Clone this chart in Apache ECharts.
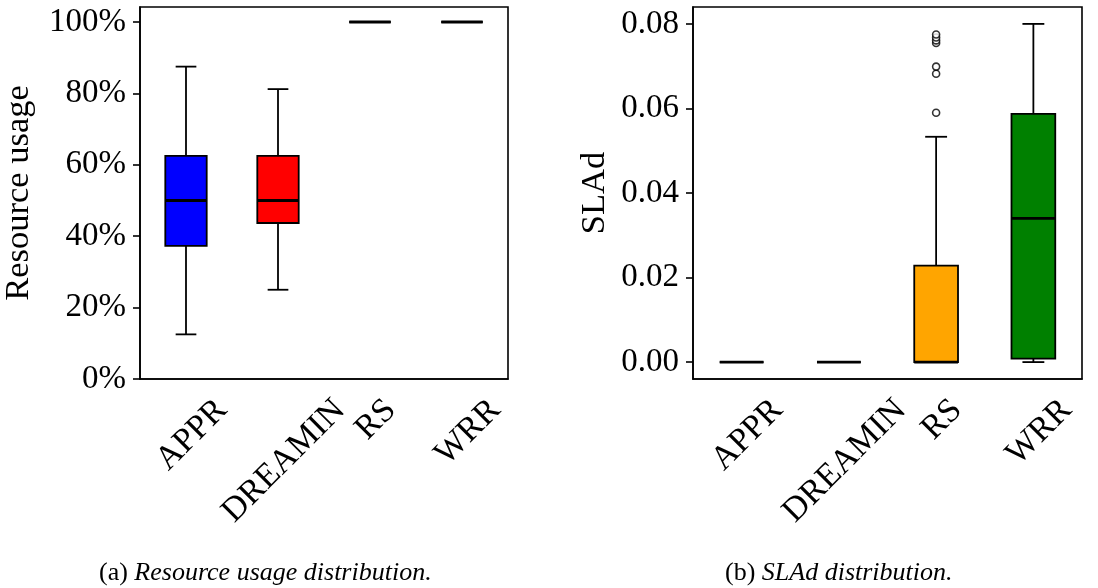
<!DOCTYPE html>
<html>
<head>
<meta charset="utf-8">
<script src="https://cdn.jsdelivr.net/npm/echarts@6/dist/echarts.min.js"></script>
<style>
  html, body { margin: 0; padding: 0; background: #fff; }
  #chart { width: 1098px; height: 588px; }
</style>
</head>
<body>
<div id="chart"></div>
<script>
var categories = ['APPR', 'DREAMIN', 'RS', 'WRR'];
var boxColors = ['#0000ff', '#ff0000', '#ffa500', '#008000'];

// each row: [lower whisker, Q1, median, Q3, upper whisker]
var usageStats = [
    [0.125, 0.373, 0.500, 0.625, 0.875],
    [0.250, 0.437, 0.500, 0.625, 0.812],
    [1.000, 1.000, 1.000, 1.000, 1.000],
    [1.000, 1.000, 1.000, 1.000, 1.000]
];
var sladStats = [
    [0, 0, 0, 0, 0],
    [0, 0, 0, 0, 0],
    [0, 0, 0, 0.0228, 0.0533],
    [0, 0.0008, 0.0340, 0.0587, 0.0800]
];
var sladOutliers = [
    ['RS', 0.0590], ['RS', 0.0682], ['RS', 0.0699],
    ['RS', 0.0755], ['RS', 0.0761], ['RS', 0.0768], ['RS', 0.0775]
];
var usageTicks = [0, 0.2, 0.4, 0.6, 0.8, 1.0];
var sladTicks = [0, 0.02, 0.04, 0.06, 0.08];

var serif = "'Liberation Serif', 'DejaVu Serif', serif";
var fontSize = 33;
var catFontSize = 34;
var nameFontSize = 34.5;

// matplotlib puts a 45 degree label's bounding box centred under the tick;
// echarts rotates about the anchor, so shift each label by its own width using padding
var labelGap = 14;
var labelShiftX = 6;
var measureCtx = document.createElement('canvas').getContext('2d');
measureCtx.font = catFontSize + 'px ' + serif;
function categoryItems() {
    return categories.map(function (c) {
        var w = measureCtx.measureText(c).width;
        var dy = labelGap + (w + catFontSize) / (2 * Math.SQRT2);
        var a = (dy - labelShiftX) / Math.SQRT2;
        var b = (dy + labelShiftX) / Math.SQRT2;
        return {
            value: c,
            textStyle: {
                align: 'center',
                verticalAlign: 'top',
                padding: [b - catFontSize / 2, 2 * a, 0, 0]
            }
        };
    });
}

function renderBox(params, api) {
    var cat = api.value(0);
    var lo = api.coord([cat, api.value(1)]);
    var q1 = api.coord([cat, api.value(2)]);
    var med = api.coord([cat, api.value(3)]);
    var q3 = api.coord([cat, api.value(4)]);
    var hi = api.coord([cat, api.value(5)]);
    var band = api.size([1, 0])[0];
    var half = band * 0.45 / 2;
    var cap = half / 2;
    var x = lo[0];
    var line = {stroke: '#000', lineWidth: 1.8};
    return {
        type: 'group',
        children: [
            {type: 'line', shape: {x1: x, y1: hi[1], x2: x, y2: q3[1]}, style: line},
            {type: 'line', shape: {x1: x, y1: q1[1], x2: x, y2: lo[1]}, style: line},
            {type: 'line', shape: {x1: x - cap, y1: hi[1], x2: x + cap, y2: hi[1]}, style: line},
            {type: 'line', shape: {x1: x - cap, y1: lo[1], x2: x + cap, y2: lo[1]}, style: line},
            {
                type: 'rect',
                shape: {x: x - half, y: q3[1], width: 2 * half, height: q1[1] - q3[1]},
                style: {fill: boxColors[params.dataIndex], stroke: '#000', lineWidth: 1.8}
            },
            {type: 'line', shape: {x1: x - half, y1: med[1], x2: x + half, y2: med[1]}, style: {stroke: '#000', lineWidth: 2.8}}
        ]
    };
}

function boxData(stats) {
    return categories.map(function (c, i) {
        return [c].concat(stats[i]);
    });
}

function xAxisFor(gridIndex) {
    return {
        type: 'category',
        gridIndex: gridIndex,
        data: categoryItems(),
        axisLine: {onZero: false, lineStyle: {color: '#000', width: 1.6}},
        axisTick: {alignWithLabel: true, length: 7, interval: 0, lineStyle: {color: '#000', width: 1.6}},
        axisLabel: {
            interval: 0,
            rotate: 45,
            margin: 0,
            hideOverlap: false,
            color: '#000',
            fontSize: catFontSize,
            fontFamily: serif
        },
        splitLine: {show: false}
    };
}

function yAxisFor(gridIndex, name, nameGap, min, max, ticks, fmt) {
    return {
        type: 'value',
        gridIndex: gridIndex,
        name: name,
        nameLocation: 'middle',
        nameGap: nameGap,
        nameTextStyle: {color: '#000', fontSize: nameFontSize, fontFamily: serif},
        min: min,
        max: max,
        axisLine: {show: true, onZero: false, lineStyle: {color: '#000', width: 1.6}},
        axisTick: {show: true, length: 7, customValues: ticks, lineStyle: {color: '#000', width: 1.6}},
        axisLabel: {customValues: ticks, formatter: fmt, margin: 14, color: '#000', fontSize: fontSize, fontFamily: serif},
        splitLine: {show: false}
    };
}

var captionRich = {
    a: {fontSize: 26, fontFamily: serif, fontWeight: 'normal', color: '#000'},
    b: {fontSize: 26, fontFamily: serif, fontWeight: 'normal', fontStyle: 'italic', color: '#000'}
};

var chart = echarts.init(document.getElementById('chart'));

var option = {
    backgroundColor: '#fff',
    animation: false,
    title: [
        {
            text: '{a|(a) }{b|Resource usage distribution.}',
            left: 94,
            top: 555,
            textStyle: {fontWeight: 'normal', rich: captionRich}
        },
        {
            text: '{a|(b) }{b|SLAd distribution.}',
            left: 720,
            top: 555,
            textStyle: {fontWeight: 'normal', rich: captionRich}
        }
    ],
    grid: [
        {left: 140, top: 7, width: 368, height: 372, show: true, borderColor: '#000', borderWidth: 1.6},
        {left: 693, top: 7, width: 389, height: 372, show: true, borderColor: '#000', borderWidth: 1.6}
    ],
    xAxis: [xAxisFor(0), xAxisFor(1)],
    yAxis: [
        yAxisFor(0, 'Resource usage', 104, 0, 1.042, usageTicks, function (v) {
            return Math.round(v * 100) + '%';
        }),
        yAxisFor(1, 'SLAd', 81, -0.004, 0.084, sladTicks, function (v) {
            return v.toFixed(2);
        })
    ],
    series: [
        {
            type: 'custom',
            xAxisIndex: 0,
            yAxisIndex: 0,
            renderItem: renderBox,
            encode: {x: 0, y: [1, 2, 3, 4, 5]},
            data: boxData(usageStats)
        },
        {
            type: 'custom',
            xAxisIndex: 1,
            yAxisIndex: 1,
            renderItem: renderBox,
            encode: {x: 0, y: [1, 2, 3, 4, 5]},
            data: boxData(sladStats)
        },
        {
            type: 'scatter',
            xAxisIndex: 1,
            yAxisIndex: 1,
            symbol: 'circle',
            symbolSize: 7,
            itemStyle: {color: '#fff', borderColor: '#000', borderWidth: 1.6},
            data: sladOutliers
        }
    ]
};

chart.setOption(option);

window.onresize = function () {
    chart.resize();
};
</script>
</body>
</html>
